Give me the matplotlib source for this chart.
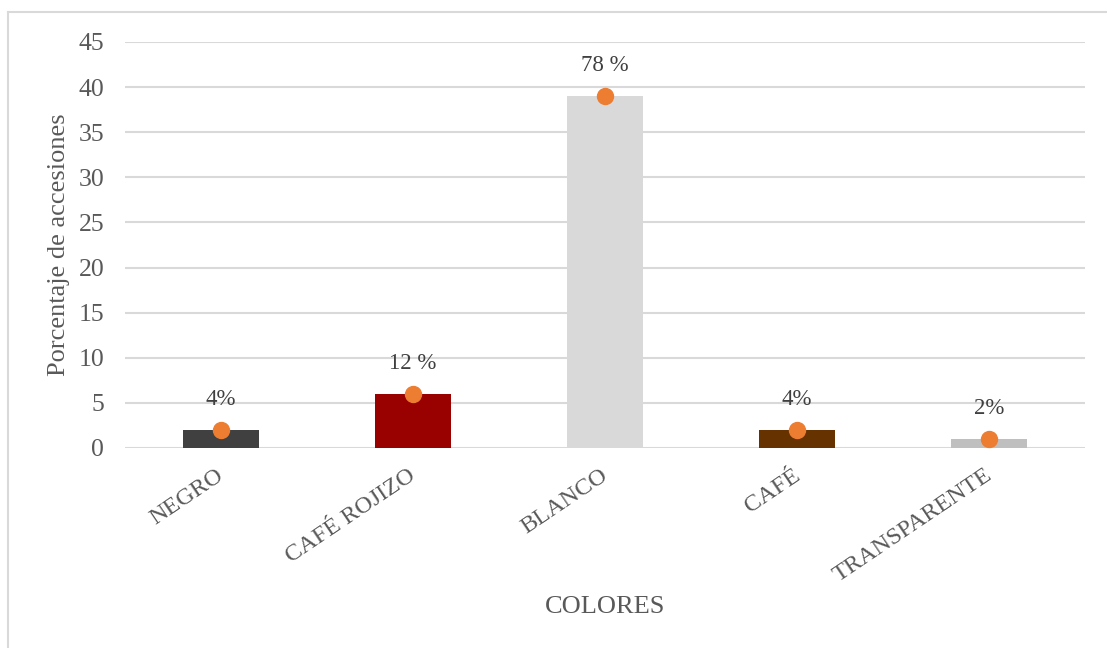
import matplotlib
matplotlib.use("Agg")
import matplotlib.pyplot as plt
import matplotlib.transforms as mtransforms
from matplotlib.lines import Line2D

categories = ["NEGRO", "CAFÉ ROJIZO", "BLANCO", "CAFÉ", "TRANSPARENTE"]
values = [2, 6, 39, 2, 1]
point_labels = ["4%", "12 %", "78 %", "4%", "2%"]
bar_colors = ["#404040", "#990000", "#D9D9D9", "#663300", "#BFBFBF"]
y_ticks = [0, 5, 10, 15, 20, 25, 30, 35, 40, 45]

plt.rcParams["font.family"] = ["Liberation Serif", "DejaVu Serif"]

fig = plt.figure(figsize=(11.07, 6.48), dpi=100)
ax = fig.add_axes([125 / 1107, 200 / 648, 960 / 1107, 406 / 648])

x = list(range(len(categories)))
ax.bar(x, values, width=0.4, color=bar_colors, zorder=2)
ax.plot(x, values, linestyle="none", marker="o", markersize=11.5,
        color="#ED7D31", zorder=3)
for xi, v, lab in zip(x, values, point_labels):
    ax.annotate(lab, (xi, v), xytext=(0, 22), textcoords="offset points",
                ha="center", va="center", fontsize=16.5, color="#404040")

ax.set_xlim(-0.5, len(categories) - 0.5)
ax.set_ylim(0, 45)
ax.set_yticks(y_ticks)
ax.yaxis.grid(True, color="#D9D9D9", linewidth=1.5, zorder=0)
ax.set_axisbelow(True)
for s in ax.spines.values():
    s.set_visible(False)
ax.tick_params(axis="both", length=0, labelcolor="#595959")
ax.tick_params(axis="y", pad=15, labelsize=18.5)
ax.set_xticks(x)
ax.set_xticklabels(categories, rotation=34, ha="right", rotation_mode="anchor")
ax.tick_params(axis="x", pad=12, labelsize=17.5)
shift = mtransforms.ScaledTranslation(-5 / 100, 0, fig.dpi_scale_trans)
for lbl in ax.get_xticklabels():
    lbl.set_transform(lbl.get_transform() + shift)

ax.set_ylabel("Porcentaje de accesiones", fontsize=19, color="#595959",
              labelpad=6)
fig.text(605 / 1107, 1 - 607 / 648, "COLORES", ha="center", va="center",
         fontsize=19, color="#595959")

# outer frame of the chart area
fig.add_artist(Line2D([8 / 1107, 1.0], [1 - 12 / 648, 1 - 12 / 648],
                      transform=fig.transFigure, color="#D9D9D9", linewidth=1.5))
fig.add_artist(Line2D([8 / 1107, 8 / 1107], [0.0, 1 - 12 / 648],
                      transform=fig.transFigure, color="#D9D9D9", linewidth=1.5))

fig.savefig("out.png", dpi=100, facecolor="white")
